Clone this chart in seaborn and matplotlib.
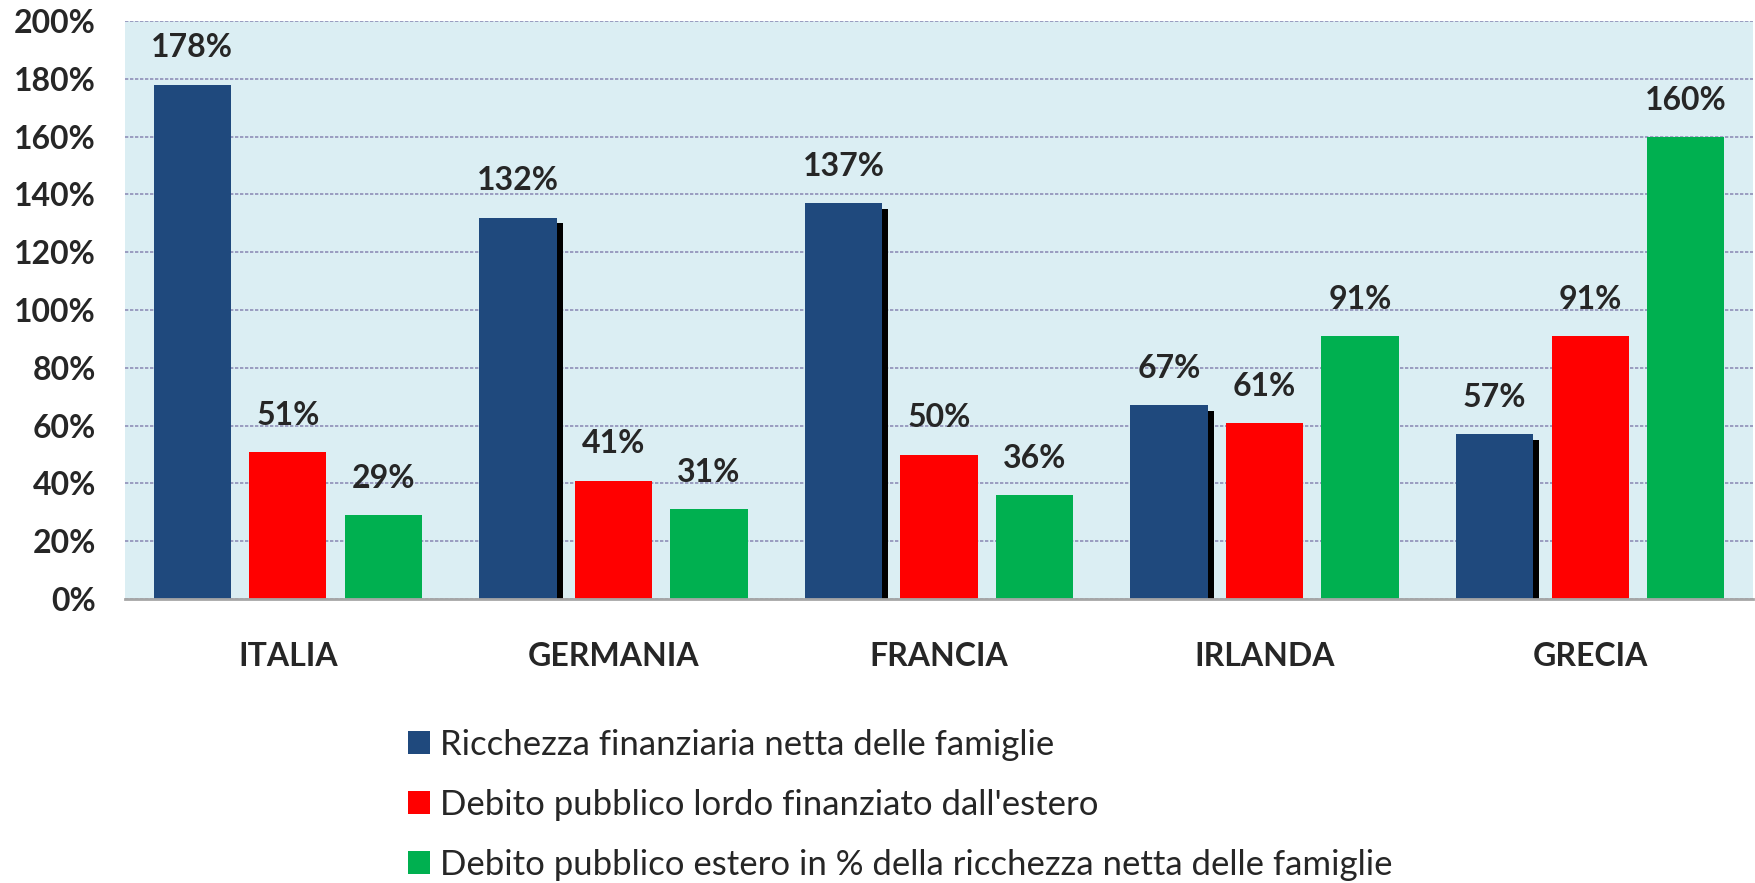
import matplotlib
matplotlib.use('Agg')
import matplotlib.pyplot as plt
import matplotlib.patheffects as pe
from matplotlib.patches import Patch
import seaborn as sns
import pandas as pd

# Data (percent)
paesi = ['ITALIA', 'GERMANIA', 'FRANCIA', 'IRLANDA', 'GRECIA']
ricchezza = [178, 132, 137, 67, 57]
debito_estero = [51, 41, 50, 61, 91]
debito_pct = [29, 31, 36, 91, 160]
serie = ['Ricchezza finanziaria netta delle famiglie',
         "Debito pubblico lordo finanziato dall'estero",
         'Debito pubblico estero in % della ricchezza netta delle famiglie']
y_ticks = [0, 20, 40, 60, 80, 100, 120, 140, 160, 180, 200]

colori = ['#1F497D', '#FF0000', '#00B050']

df = pd.DataFrame({
    'Paese': paesi * 3,
    'Valore': ricchezza + debito_estero + debito_pct,
    'Serie': [serie[0]] * 5 + [serie[1]] * 5 + [serie[2]] * 5,
})

sns.set_style('white')
plt.rcParams['font.family'] = ['Lato', 'DejaVu Sans']

fig = plt.figure(figsize=(17.56, 8.83), dpi=100)
ax = fig.add_axes([125 / 1756, 1 - 599 / 883, (1753 - 125) / 1756, (599 - 21) / 883])
ax.set_facecolor('#DBEEF3')

sns.barplot(data=df, x='Paese', y='Valore', hue='Serie', order=paesi, hue_order=serie,
            palette=colori, width=0.88, gap=0.19, saturation=1, ax=ax, legend=False,
            edgecolor='none', linewidth=0, zorder=3)

# black drop shadow on the blue bars (except Italia, as in the original)
shadow = [pe.SimplePatchShadow(offset=(4.3, -4.3), shadow_rgbFace='black', alpha=1.0), pe.Normal()]
for i, bar in enumerate(ax.containers[0]):
    if i > 0:
        bar.set_path_effects(shadow)

# value labels
for cont in ax.containers:
    for bar in cont:
        h = bar.get_height()
        ax.annotate(f'{h:.0f}%', (bar.get_x() + bar.get_width() / 2, h),
                    xytext=(0, 19.5), textcoords='offset points',
                    ha='center', va='baseline', fontsize=23, fontweight='bold', zorder=5)

ax.set_ylim(0, 200)
ax.set_xlim(-0.5, len(paesi) - 0.5)
ax.set_yticks(y_ticks)
ax.set_yticklabels([f'{t}%' for t in y_ticks], fontsize=23, fontweight='bold')
ax.set_xticklabels(paesi, fontsize=23, fontweight='bold')
ax.tick_params(axis='y', length=0, pad=21)
ax.tick_params(axis='x', length=0, pad=31)
ax.set_xlabel('')
ax.set_ylabel('')
ax.yaxis.grid(True, color='#8F8FB8', linewidth=1.2, linestyle=(0, (2, 1)), zorder=0)
ax.set_axisbelow(True)
for s in ['left', 'right', 'top']:
    ax.spines[s].set_visible(False)
ax.spines['bottom'].set_color('#A6A6A6')
ax.spines['bottom'].set_linewidth(2)
ax.spines['bottom'].set_zorder(6)

handles = [Patch(facecolor=c, edgecolor='none') for c in colori]
fig.legend(handles, serie, loc='upper left', bbox_to_anchor=(408 / 1756, 1 - 729 / 883),
           frameon=False, fontsize=25, handlelength=0.63, handleheight=0.63,
           handletextpad=0.3, labelspacing=0.8, borderpad=0, borderaxespad=0)

fig.savefig('out.png', dpi=100)
